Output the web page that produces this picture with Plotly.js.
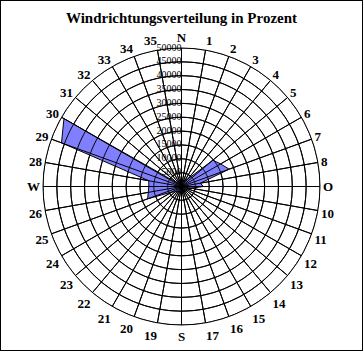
<!DOCTYPE html>
<html>
<head>
<meta charset="utf-8">
<script src="https://cdn.plot.ly/plotly-3.0.1.min.js"></script>
<style>
html,body{margin:0;padding:0;background:#fff;}
#chart{width:363px;height:351px;box-sizing:border-box;border:1px solid #000;overflow:hidden;}
</style>
</head>
<body>
<div id="chart"></div>
<script>
// Direction sectors (1..36, 10° each; 36 = North)
const directions = [1,2,3,4,5,6,7,8,9,10,11,12,13,14,15,16,17,18,19,20,21,22,23,24,25,26,27,28,29,30,31,32,33,34,35,36];
const values = [2000,2000,2500,3500,14800,16300,18300,6900,7900,3500,2500,2000,2000,1500,1500,1500,1500,2000,2000,2000,2000,2500,3000,4000,13000,12200,11800,12000,46100,49000,2000,1500,1500,1500,1500,1500];
const tickLabels = ['N','1','2','3','4','5','6','7','8','O','10','11','12','13','14','15','16','17','S','19','20','21','22','23','24','25','26','W','28','29','30','31','32','33','34','35'];
const radialTicks = [5000,10000,15000,20000,25000,30000,35000,40000,45000,50000];
const rMax = 50000;

const theta = directions.map(d => (d % 36) * 10);
const tickAngles = tickLabels.map((_, i) => i * 10);

// closed polygon
const rData = values.concat([values[0]]);
const tData = theta.concat([theta[0]]);

// grid overlay (drawn above the fill, as in the original)
const spokeR = [], spokeT = [];
tickAngles.forEach(a => { spokeR.push(0, rMax, null); spokeT.push(a, a, null); });
const ringR = [], ringT = [];
radialTicks.forEach(rv => {
  for (let a = 0; a <= 360; a += 2) { ringR.push(rv); ringT.push(a); }
  ringR.push(null); ringT.push(null);
});

const traces = [
  {type:'scatterpolar', r:rData, theta:tData, mode:'lines', fill:'toself',
   fillcolor:'#8080ff', line:{color:'#000', width:1}, hoverinfo:'skip', showlegend:false},
  {type:'scatterpolar', r:spokeR, theta:spokeT, mode:'lines', connectgaps:false,
   line:{color:'#000', width:1}, hoverinfo:'skip', showlegend:false},
  {type:'scatterpolar', r:ringR, theta:ringT, mode:'lines', connectgaps:false,
   line:{color:'#000', width:1}, hoverinfo:'skip', showlegend:false},
  // radial tick labels, drawn on top along the North spoke
  {type:'scatterpolar', r:radialTicks, theta:radialTicks.map(() => 0), mode:'text',
   text:radialTicks.map(String), textposition:'middle left',
   textfont:{family:'Liberation Serif', size:10, color:'#000'}, hoverinfo:'skip', showlegend:false}
];

const layout = {
  width:361, height:349,
  margin:{l:42, r:42, t:47, b:25},
  paper_bgcolor:'#fff',
  showlegend:false,
  title:{text:'Windrichtungsverteilung in Prozent', x:0.5, xanchor:'center', y:0.951, yanchor:'middle',
         font:{family:'Liberation Serif', size:15, color:'#000', weight:'bold'}},
  polar:{
    bgcolor:'#fff',
    domain:{x:[0,1], y:[0,1]},
    angularaxis:{rotation:90, direction:'clockwise', tickmode:'array', tickvals:tickAngles, ticktext:tickLabels,
      showline:true, linecolor:'#000', linewidth:1, gridcolor:'#000', gridwidth:1, ticks:'',
      tickfont:{family:'Liberation Serif', size:13, color:'#000', weight:'bold'}},
    radialaxis:{range:[0,rMax], tickvals:radialTicks, showticklabels:false,
      angle:90, showline:false, gridcolor:'#000', gridwidth:1, ticks:''}
  }
};
Plotly.newPlot('chart', traces, layout, {displayModeBar:false, staticPlot:true});
</script>
</body>
</html>
